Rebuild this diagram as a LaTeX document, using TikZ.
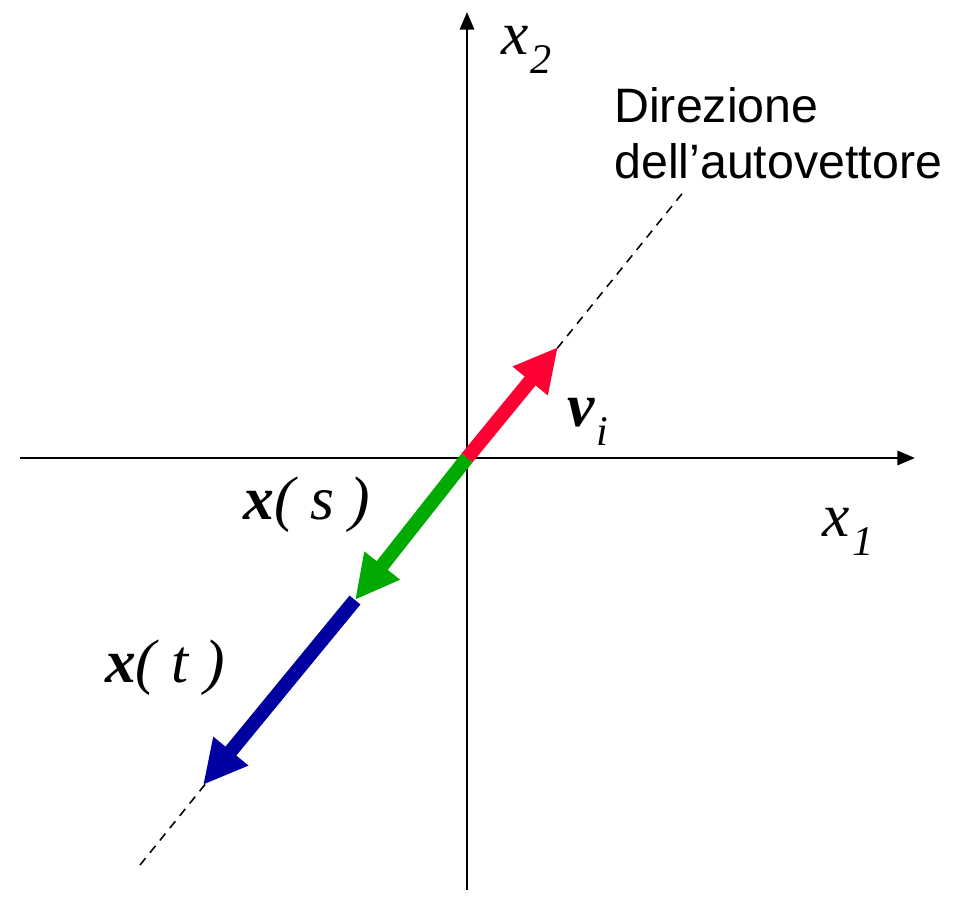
\documentclass[tikz,border=0pt]{standalone}
\usepackage{fontspec}
\setmainfont{Liberation Serif}
\newfontfamily\labelsans{Liberation Sans}
\usetikzlibrary{arrows.meta,positioning}

\definecolor{vred}{RGB}{255,0,51}
\definecolor{sgreen}{RGB}{0,170,0}
\definecolor{tblue}{RGB}{0,0,160}

\newcommand{\lowsub}[1]{\kern1pt\raisebox{-11pt}{\fontsize{24}{24}\selectfont\itshape #1}}

\begin{document}
\begin{tikzpicture}[
  x=0.02cm, y=-0.02cm,
  axis/.style={line width=1.6pt, -{Triangle[length=10pt,width=8pt]}},
  vec/.style={line width=8pt, -{Triangle[length=25pt,width=24pt]}},
  guide/.style={line width=0.9pt, dash pattern=on 5pt off 4pt},
  mathlbl/.style={font=\fontsize{35}{35}\selectfont\itshape, inner sep=0pt},
  note/.style={font=\fontsize{27.5}{32}\selectfont\labelsans, align=left, inner sep=0pt}
]
\useasboundingbox (0,0) rectangle (962,902);

\coordinate (O) at (467,458);
\coordinate (xstart) at (20,458);
\coordinate (xend) at (915,458);
\coordinate (ybot) at (467,890);
\coordinate (ytop) at (467,12);
\coordinate (dirlo) at (140,865);
\coordinate (dirhi) at (685,190);
\coordinate (vtip) at (558,347);
\coordinate (stip) at (355,600);
\coordinate (ttip) at (203,785);

% assi
\draw[axis] (xstart) -- (xend);
\draw[axis] (ybot) -- (ytop);

% direzione dell'autovettore
\draw[guide] (dirlo) -- (dirhi);

\draw[vec, vred] (O) -- (vtip);
\draw[vec, sgreen] (O) -- (stip);
\draw[vec, tblue] (stip) -- (ttip);

\node[mathlbl] (lx2) at (527,50) {x\lowsub{2}};
\node[mathlbl] (lx1) at (848,532) {x\lowsub{1}};
\node[mathlbl] (lv) at (588,422) {\textbf{v}\lowsub{i}};
\node[mathlbl] (ls) at (307,505) {\textbf{x}( s )};
\node[mathlbl] (lt) at (165,668) {\textbf{x}( t )};
\node[note, anchor=north west] (dir) at (614,87) {Direzione\\dell’autovettore};

\end{tikzpicture}
\end{document}
